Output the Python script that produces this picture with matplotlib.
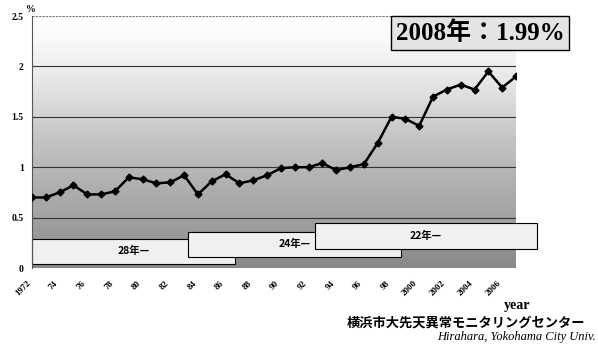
import numpy as np
import matplotlib
matplotlib.use('Agg')
import matplotlib.pyplot as plt
from matplotlib.colors import LinearSegmentedColormap
from matplotlib.patches import Rectangle

# Incidence (%) per year
years = list(range(1972, 2008))
values = [0.70, 0.70, 0.75, 0.82, 0.73, 0.73, 0.76, 0.90, 0.88, 0.84,
          0.85, 0.92, 0.73, 0.86, 0.93, 0.84, 0.87, 0.92, 0.99, 1.00,
          1.00, 1.04, 0.97, 1.00, 1.03, 1.24, 1.50, 1.48, 1.41, 1.70,
          1.77, 1.82, 1.77, 1.95, 1.79, 1.90]

tick_years = list(range(1972, 2007, 2))
tick_labels = ['1972', '74', '76', '78', '80', '82', '84', '86', '88', '90',
               '92', '94', '96', '98', '2000', '2002', '2004', '2006']
y_ticks = [0, 0.5, 1, 1.5, 2, 2.5]
y_labels = ['0', '0.5', '1', '1.5', '2', '2.5']

# period boxes: (label, start year, end year, lower value, upper value)
periods = [('28年—', 1972.0, 1986.7, 0.04, 0.29),
           ('24年—', 1983.3, 1998.7, 0.11, 0.36),
           ('22年—', 1992.5, 2008.5, 0.19, 0.45)]

serif = ['Liberation Serif', 'Noto Sans CJK JP']
jp = ['Noto Sans CJK JP', 'DejaVu Sans']

fig = plt.figure(figsize=(5.98, 3.45), dpi=100)
ax = fig.add_axes([32 / 598, 1 - 268 / 345, 484 / 598, 252 / 345])
ax.set_xlim(1972, 2007)
ax.set_ylim(0, 2.5)

# shaded background, light at the top and dark at the bottom
cmap = LinearSegmentedColormap.from_list(
    'bg', [(0.0, '#888888'), (0.2, '#a2a2a2'), (0.5, '#c2c2c2'),
           (0.75, '#e8e8e8'), (0.9, '#f8f8f8'), (1.0, '#ffffff')])
grad = np.linspace(0, 1, 256).reshape(-1, 1)
ax.imshow(grad, aspect='auto', cmap=cmap, origin='lower',
          extent=[1972, 2007, 0, 2.5], zorder=0)

for v in [0.5, 1, 1.5, 2]:
    ax.axhline(v, color='#333333', lw=0.8, zorder=1)
ax.axhline(2.5, color='#777777', lw=0.8, ls=(0, (2, 1)), zorder=1)

for label, x0, x1, y0, y1 in periods:
    ax.add_patch(Rectangle((x0, y0), x1 - x0, y1 - y0, facecolor='#f0f0f0',
                           edgecolor='black', lw=0.8, zorder=2, clip_on=False))
    ax.text((x0 + x1) / 2, (y0 + y1) / 2, label, family=jp, fontsize=7.5,
            fontweight='bold', ha='center', va='center', zorder=3)

ax.plot(years, values, color='black', lw=1.8, marker='D', markersize=3.5,
        zorder=4)

ax.set_xticks(tick_years)
ax.set_xticklabels(tick_labels, rotation=45, ha='right', family=serif,
                   fontsize=6.5, fontweight='bold')
ax.set_yticks(y_ticks)
ax.set_yticklabels(y_labels, family=serif, fontsize=7, fontweight='bold')
ax.tick_params(axis='x', length=0, pad=8)
ax.tick_params(axis='y', length=0, pad=6)
for s in ['top', 'right', 'bottom']:
    ax.spines[s].set_visible(False)
ax.spines['left'].set_color('#555555')
ax.spines['left'].set_linestyle((0, (2, 1)))
ax.spines['left'].set_linewidth(0.8)

fig.text(31 / 598, 1 - 9 / 345, '%', family=serif, fontsize=7,
         fontweight='bold', ha='center', va='center')

fig.text(480 / 598, 1 - 33 / 345, '2008年：1.99%', family=serif, fontsize=18,
         fontweight='bold', ha='center', va='center',
         bbox=dict(boxstyle='square,pad=0.2', facecolor='#e4e4e4',
                   edgecolor='black', lw=1))

fig.text(517 / 598, 1 - 305 / 345, 'year', family=serif, fontsize=10,
         fontweight='bold', ha='center', va='center')
fig.text(585 / 598, 1 - 322 / 345, '横浜市大先天異常モニタリングセンター',
         family=jp, fontsize=9.5, fontweight='bold', ha='right', va='center')
fig.text(596 / 598, 1 - 337 / 345, 'Hirahara, Yokohama City Univ.',
         family=serif, fontsize=9, style='italic', ha='right', va='center')

fig.savefig('out.png', dpi=100)
